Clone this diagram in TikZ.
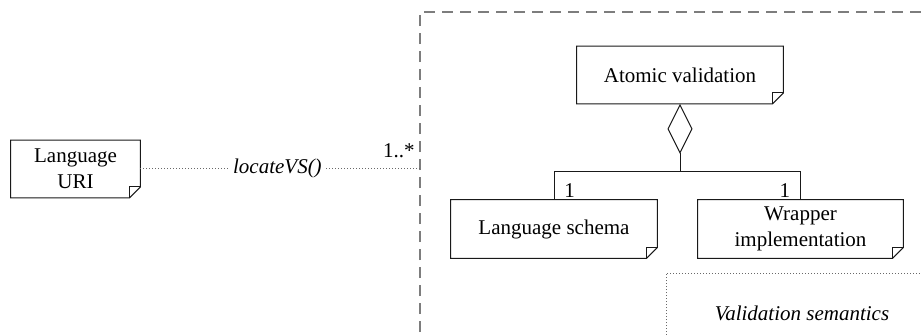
\documentclass[tikz,border=0pt]{standalone}
\usepackage{fontspec}
\setmainfont{Liberation Serif}
\usetikzlibrary{arrows.meta}
\definecolor{figline}{RGB}{25,25,25}
\definecolor{figframe}{RGB}{125,125,125}
\definecolor{figdot}{RGB}{105,105,105}
\tikzset{
  note/.style  ={draw=none, minimum height=28.5pt, align=center, inner sep=1pt,
                 font=\fontsize{10.5}{13}\selectfont},
  notel/.style ={draw=figline, line width=0.5pt},
  lab/.style   ={font=\fontsize{10.5}{13}\selectfont, inner sep=1pt},
  labi/.style  ={font=\fontsize{10.5}{13}\selectfont\itshape, inner sep=1pt},
  frm/.style   ={draw=figframe, line width=0.75pt, dash pattern=on 5.5pt off 3.5pt},
  dotl/.style  ={draw=figdot, line width=0.5pt, dash pattern=on 0.5pt off 1pt},
  agg/.style   ={draw=figline, line width=0.5pt,
                 {Diamond[open,length=25pt,width=12.5pt]}-},
}
\newcommand{\notefold}[1]{%
  \draw[notel] (#1.north west) -- (#1.north east) -- ([yshift=5.5pt]#1.south east)
    -- ([xshift=-5.5pt]#1.south east) -- (#1.south west) -- cycle;
  \draw[notel] ([xshift=-5.5pt]#1.south east) -- ([xshift=-5.5pt,yshift=5.5pt]#1.south east)
    -- ([yshift=5.5pt]#1.south east);}

\begin{document}
\begin{tikzpicture}[x=0.5pt,y=-0.5pt]
  \useasboundingbox (0,0) rectangle (922,334);
  \clip (0,0) rectangle (922,334);
  % frame of the validation service
  \draw[frm] (420,350) -- (420,12) -- (940,12);
  \draw[dotl] (666,350) -- (666,273) -- (940,273);
  % notes
  \node[note, minimum width=64.5pt] (uri) at (75.5,169) {Language\\URI};
  \notefold{uri}
  \node[note, minimum width=103pt] (atomic) at (680,75) {Atomic validation};
  \notefold{atomic}
  \node[note, minimum width=103pt, minimum height=29pt] (schema) at (554,229) {Language schema};
  \notefold{schema}
  \node[note, minimum width=102.5pt, minimum height=29pt] (wrapper) at (800.5,229) {Wrapper\\implementation};
  \notefold{wrapper}
  % association to the frame
  \coordinate (vs) at (420,168);
  \draw[dotl] (uri.east |- vs) -- (vs)
    node[labi, pos=0.49, fill=white, inner xsep=2pt] (op) {locateVS()};
  \node[lab, anchor=south east] (mvs) at (417,160) {1..*};
  % aggregation
  \coordinate (join) at (680,171);
  \draw[notel] (schema.north) |- (join);
  \draw[notel] (wrapper.north) |- (join);
  \draw[agg] (atomic.south) -- (join);
  \node[lab, anchor=south west] (m1) at ([xshift=4pt]schema.north) {1};
  \node[lab, anchor=south east] (m2) at ([xshift=-4pt]wrapper.north) {1};
  \node[labi] (sem) at (802,313) {Validation semantics};
\end{tikzpicture}
\end{document}
